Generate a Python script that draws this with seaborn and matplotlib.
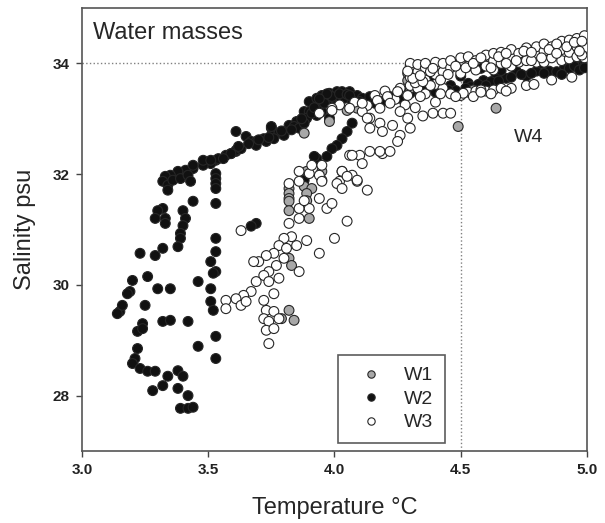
import matplotlib
matplotlib.use('Agg')
import matplotlib.pyplot as plt
import seaborn as sns
import pandas as pd

sns.set_style('ticks')
plt.rcParams['font.family'] = ['Liberation Sans', 'DejaVu Sans']

# ---- data (temperature degC, salinity psu) ----
w2_t = [3.53, 3.59, 3.61, 3.51, 3.48, 3.44, 3.41, 3.38, 3.35, 3.33, 3.32, 3.34, 3.36, 3.39, 3.42, 3.43, 3.34,
        3.53, 3.53, 3.53, 3.53, 3.53, 3.53, 3.53, 3.51, 3.53, 3.52, 3.51, 3.51, 3.52, 3.53, 3.53,
        3.44, 3.40, 3.41, 3.40, 3.39, 3.39, 3.38, 3.32, 3.30, 3.29, 3.33, 3.33, 3.23, 3.29, 3.32,
        3.46, 3.20, 3.26, 3.30, 3.35, 3.19, 3.25, 3.24, 3.22, 3.24, 3.32, 3.35, 3.42, 3.46, 3.22,
        3.21, 3.20, 3.23, 3.26, 3.29, 3.38, 3.40, 3.34, 3.32, 3.28, 3.38, 3.42, 3.39, 3.42, 3.44,
        3.15, 3.16, 3.14, 3.18,
        3.44, 3.48, 3.54, 3.57, 3.61, 3.61, 3.65, 3.67, 3.69, 3.72, 3.75, 3.75, 3.78, 3.82, 3.85,
        3.88, 3.90, 3.93, 3.95, 3.98, 4.01, 4.03, 4.06, 4.09, 4.11, 3.90, 3.93, 3.95, 3.98, 3.94,
        3.89, 3.80, 3.84, 3.59, 3.63, 3.56, 3.51, 3.69, 3.73, 3.76, 3.80, 3.86, 3.88, 3.92, 3.97,
        4.00, 4.02, 4.04, 4.07, 3.75,
        3.62, 3.66, 3.70, 3.74, 3.79, 3.83, 3.87, 3.91, 3.96, 3.99, 4.02, 4.05, 3.97, 3.94, 3.92,
        4.07, 4.05, 4.03, 4.01, 3.99, 3.97, 3.93, 3.92, 3.88, 3.69, 3.67,
        4.06, 4.14, 4.19, 4.26, 4.33, 4.39, 4.46, 4.53, 4.59, 4.64, 4.72, 4.80, 4.85, 4.91, 4.98,
        4.10, 4.16, 4.22, 4.30, 4.36, 4.42, 4.48, 4.54, 4.62, 4.68, 4.76, 4.83, 4.93, 4.99, 4.38,
        4.50, 4.66, 4.82, 4.95, 4.58,
        4.34, 4.40, 4.45, 4.52, 4.57, 4.60, 4.65, 4.70, 4.74, 4.78, 4.88, 4.95, 4.97, 4.99, 4.90]
w2_s = [32.25, 32.37, 32.41, 32.19, 32.16, 32.10, 32.07, 32.05, 31.98, 31.96, 31.87, 31.80, 31.89, 31.92, 31.98, 31.87, 31.71,
        32.01, 31.92, 31.83, 31.74, 31.47, 30.84, 30.60, 30.42, 30.24, 30.21, 29.93, 29.70, 29.54, 29.07, 28.67,
        31.51, 31.34, 31.20, 31.07, 30.93, 30.84, 30.69, 31.38, 31.34, 31.20, 31.20, 31.11, 30.57, 30.53, 30.66,
        30.06, 30.08, 30.15, 29.93, 29.93, 29.88, 29.63, 29.30, 29.16, 29.21, 29.34, 29.36, 29.34, 28.89, 28.85,
        28.67, 28.58, 28.49, 28.44, 28.44, 28.45, 28.35, 28.35, 28.18, 28.09, 28.13, 28.00, 27.77, 27.77, 27.79,
        29.52, 29.63, 29.48, 29.84,
        32.16, 32.25, 32.28, 32.34, 32.43, 32.77, 32.68, 32.59, 32.59, 32.64, 32.83, 32.70, 32.74, 32.88, 32.95,
        33.13, 33.31, 33.37, 33.42, 33.46, 33.49, 33.49, 33.49, 33.42, 33.37, 33.13, 33.06, 33.13, 33.01, 33.24,
        33.01, 32.77, 32.86, 32.37, 32.46, 32.28, 32.25, 32.52, 32.59, 32.64, 32.70, 32.83, 32.92, 33.19, 33.31,
        33.37, 33.40, 33.37, 33.33, 32.86,
        32.50, 32.55, 32.62, 32.66, 32.78, 32.80, 33.00, 33.10, 33.28, 33.40, 33.45, 33.44, 33.45, 33.36, 33.20,
        32.92, 32.77, 32.64, 32.52, 32.46, 32.32, 32.28, 32.32, 31.89, 31.11, 31.06,
        33.42, 33.40, 33.31, 33.37, 33.49, 33.55, 33.60, 33.64, 33.69, 33.78, 33.86, 33.86, 33.86, 33.91, 33.96,
        33.31, 33.28, 33.40, 33.46, 33.51, 33.58, 33.51, 33.58, 33.67, 33.73, 33.77, 33.82, 33.91, 34.05, 33.73,
        33.77, 33.87, 34.00, 34.09, 33.91,
        33.42, 33.48, 33.52, 33.55, 33.62, 33.60, 33.68, 33.75, 33.80, 33.82, 33.85, 33.95, 33.88, 33.92, 33.80]

w1_t = [3.82, 3.82, 3.82, 3.82, 3.82, 3.88, 3.91, 3.89, 3.89, 3.90, 3.95, 3.95, 3.82, 3.83, 3.82, 3.84, 3.79,
        3.89, 3.88, 3.98, 4.05, 4.09, 4.49, 4.64, 4.30, 4.29, 4.29, 4.30, 4.45, 4.62, 4.75, 4.90, 4.55]
w1_s = [31.74, 31.65, 31.56, 31.51, 31.34, 31.78, 31.74, 31.65, 31.52, 31.20, 31.89, 32.05, 30.48, 30.35, 29.54, 29.36, 29.39,
        32.05, 32.74, 32.95, 33.15, 33.19, 32.86, 33.19, 33.96, 33.69, 33.82, 33.55, 33.98, 34.08, 34.15, 34.30, 33.52]

w3_t = [4.30, 4.30, 4.30, 4.30, 4.33, 4.33, 4.33, 4.36, 4.36, 4.36, 4.36, 4.40, 4.40, 4.40, 4.40, 4.40,
        4.43, 4.43, 4.43, 4.46, 4.46, 4.46, 4.50, 4.50, 4.50, 4.50, 4.53, 4.53, 4.53, 4.56, 4.56, 4.56,
        4.60, 4.60, 4.60, 4.63, 4.63, 4.63, 4.63, 4.66, 4.66, 4.66, 4.70, 4.70, 4.70, 4.70, 4.73, 4.73,
        4.76, 4.76, 4.76, 4.80, 4.80, 4.80, 4.83, 4.83, 4.83, 4.86, 4.86, 4.86, 4.90, 4.90, 4.90,
        4.93, 4.93, 4.93, 4.96, 4.96, 4.96, 4.99, 4.99, 4.99,
        4.51, 4.55, 4.58, 4.62, 4.68, 4.79, 4.94,
        4.32, 4.34, 4.38, 4.38, 4.42, 4.42, 4.45, 4.48, 4.48, 4.52, 4.55, 4.58, 4.58, 4.62, 4.65, 4.68, 4.68,
        4.72, 4.75, 4.78, 4.78, 4.82, 4.85, 4.88, 4.88, 4.92, 4.95, 4.98, 4.98, 4.97,
        4.26, 4.24, 4.20, 4.16, 4.08, 4.02, 4.28, 4.32, 4.35,
        4.25, 4.29, 4.21, 4.17, 4.13, 4.06, 3.99, 3.94, 4.11, 4.14, 4.18, 4.22, 4.35, 4.31, 4.34, 4.39, 4.29, 3.99, 4.11,
        4.13, 4.18, 4.14, 4.19, 4.23, 4.26,
        4.39, 4.43, 4.46, 4.29, 4.30, 4.26, 4.25, 4.19, 4.22, 4.18, 4.14, 4.10, 4.06, 4.11, 4.03, 4.07, 4.02, 4.09,
        4.13, 3.94, 3.97, 4.05, 4.00, 3.94, 3.86, 3.89, 3.85, 3.83, 3.80, 3.78, 3.81, 3.80, 3.76, 3.73, 3.70, 3.68,
        3.77, 3.74, 3.72, 3.69, 3.74, 3.78, 3.67, 3.64, 3.61, 3.57, 3.57, 3.63, 3.65, 3.72, 3.76, 3.73, 3.76,
        3.78, 3.72, 3.74, 3.63, 3.82, 3.86, 3.86, 3.90, 3.88, 3.99, 3.82, 3.86, 3.86, 3.90, 3.94, 3.95, 3.91, 3.95,
        4.01, 4.03, 4.03, 4.05, 4.07, 4.09, 3.74, 3.73, 3.76]
w3_s = [33.60, 33.75, 33.90, 34.00, 33.55, 33.85, 33.98, 33.45, 33.70, 33.92, 34.00, 33.30, 33.62, 33.80, 33.95, 34.02,
        33.55, 33.85, 34.00, 33.45, 33.92, 34.05, 33.42, 33.82, 34.00, 34.10, 33.48, 33.95, 34.12, 33.50, 33.88, 34.05,
        33.50, 33.95, 34.15, 33.52, 33.88, 34.05, 34.18, 33.55, 34.00, 34.20, 33.55, 33.95, 34.10, 34.25, 34.02, 34.18,
        33.60, 34.05, 34.28, 34.02, 34.15, 34.30, 34.02, 34.22, 34.35, 33.70, 34.10, 34.30, 34.05, 34.25, 34.40,
        34.08, 34.20, 34.42, 34.12, 34.30, 34.45, 34.10, 34.28, 34.50,
        33.46, 33.40, 33.52, 33.45, 33.50, 33.62, 33.75,
        33.65, 33.40, 33.85, 33.60, 33.70, 33.45, 33.80, 33.95, 33.40, 33.92, 34.00, 33.48, 34.10, 33.92, 34.12, 34.00, 34.18,
        34.05, 34.22, 34.05, 34.20, 34.10, 34.25, 34.35, 34.18, 34.30, 34.38, 34.40, 34.15, 34.22,
        33.55, 33.35, 33.50, 33.42, 33.30, 33.25, 33.25, 33.20, 33.05,
        33.49, 33.42, 33.40, 33.33, 33.24, 33.19, 33.19, 33.10, 33.13, 33.01, 33.19, 33.28, 33.67, 33.73, 33.78, 33.91, 33.86, 33.15, 33.28,
        33.01, 32.92, 32.83, 32.77, 32.88, 33.13,
        33.10, 33.10, 33.10, 33.01, 32.83, 32.70, 32.59, 32.37, 32.41, 32.41, 32.41, 32.34, 32.34, 32.19, 32.05, 31.98, 31.87, 31.87,
        31.71, 31.56, 31.38, 31.15, 30.84, 30.57, 30.24, 30.80, 30.71, 30.87, 30.84, 30.71, 30.66, 30.48, 30.57, 30.53, 30.42, 30.42,
        30.35, 30.24, 30.17, 30.06, 30.06, 30.12, 29.88, 29.81, 29.75, 29.72, 29.57, 29.63, 29.70, 29.72, 29.84, 29.54, 29.52,
        29.39, 29.39, 29.34, 30.98, 31.11, 31.20, 31.38, 31.38, 31.52, 31.47, 31.83, 31.87, 32.05, 32.01, 31.98, 31.87, 32.16, 32.16,
        31.83, 31.74, 32.05, 31.96, 32.34, 31.89, 28.94, 29.18, 29.21]

labels = ['W1', 'W2', 'W3']
colors = {'W1': '#a8a8a8', 'W2': '#111111', 'W3': '#ffffff'}

df = pd.DataFrame({
    'T': w2_t + w1_t + w3_t,
    'S': w2_s + w1_s + w3_s,
    'Mass': ['W2'] * len(w2_t) + ['W1'] * len(w1_t) + ['W3'] * len(w3_t),
})

fig = plt.figure(figsize=(6.05, 5.23), dpi=100)
ax = fig.add_axes([0.1355, 0.1377, 0.8347, 0.847])

# reference lines
ax.plot([3.0, 4.5], [34, 34], ls=':', color='#808080', lw=1.0, zorder=1)
ax.plot([4.5, 4.5], [27, 34], ls=':', color='#808080', lw=1.0, zorder=1)

sns.scatterplot(data=df, x='T', y='S', hue='Mass', hue_order=labels, palette=colors,
                edgecolor='#262626', linewidth=0.8, s=50, ax=ax, zorder=3)

ax.set_xlim(3.0, 5.0)
ax.set_ylim(27.0, 35.0)
ax.set_xticks([3.0, 3.5, 4.0, 4.5, 5.0])
ax.set_xticklabels(['3.0', '3.5', '4.0', '4.5', '5.0'])
ax.set_yticks([28, 30, 32, 34])
ax.set_yticklabels(['28', '30', '32', '34'])
ax.tick_params(labelsize=11, length=4, width=1.0, color='#444444', pad=5)
for lab in ax.get_xticklabels() + ax.get_yticklabels():
    lab.set_fontweight('bold')
    lab.set_color('#222222')
for sp in ax.spines.values():
    sp.set_visible(True)
    sp.set_color('#555555')
    sp.set_linewidth(1.2)

ax.set_xlabel('Temperature \u00b0C', fontsize=17, labelpad=14)
ax.set_ylabel('Salinity psu', fontsize=17, labelpad=12)

ax.text(0.022, 0.944, 'Water masses', transform=ax.transAxes, fontsize=17,
        ha='left', va='center')
ax.text(4.77, 32.66, 'W4', fontsize=14, ha='center', va='center')

handles, labs = ax.get_legend_handles_labels()
leg = ax.legend(handles, labs, loc='lower left', bbox_to_anchor=(0.507, 0.018),
                frameon=True, fancybox=False, fontsize=14, markerscale=0.75,
                borderpad=0.6, labelspacing=0.3, handlelength=2.2, handletextpad=0.6,
                borderaxespad=0)
leg.get_frame().set_edgecolor('#333333')
leg.get_frame().set_linewidth(1.2)

fig.savefig('out.png', dpi=100)
